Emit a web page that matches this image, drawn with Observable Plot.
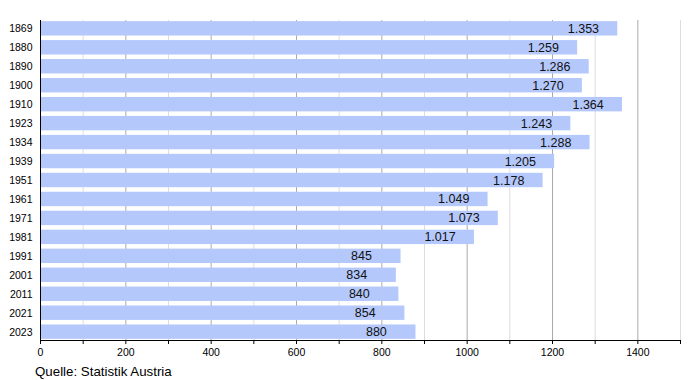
<!DOCTYPE html>
<html>
<head>
<meta charset="utf-8">
<script src="https://cdn.jsdelivr.net/npm/d3@7"></script>
<script src="https://cdn.jsdelivr.net/npm/@observablehq/plot@0.6"></script>
<style>
  body { margin: 0; background: white; font-family: "Liberation Sans", Arial, sans-serif; }
  #caption { font-size: 13.3px; margin: 2px 0 0 35px; line-height: 15px; color: #000; }
</style>
</head>
<body>
<div id="chart"></div>
<div id="caption">Quelle: Statistik Austria</div>
<script>
const years = ["1869","1880","1890","1900","1910","1923","1934","1939","1951","1961","1971","1981","1991","2001","2011","2021","2023"];
const values = [1353,1259,1286,1270,1364,1243,1288,1205,1178,1049,1073,1017,845,834,840,854,880];
const minorTicks = [100,300,500,700,900,1100,1300,1500];
const majorTicks = [200,400,600,800,1000,1200,1400];
const allTicks = [0,100,200,300,400,500,600,700,800,900,1000,1100,1200,1300,1400,1500];

const data = years.map((y, i) => ({year: y, value: values[i]}));
const de = d3.formatLocale({decimal: ",", thousands: ".", grouping: [3], currency: ["", "€"]});
const fmt = de.format(",");

const chart = Plot.plot({
  width: 700,
  height: 362,
  marginLeft: 40,
  marginRight: 20,
  marginTop: 20,
  marginBottom: 22,
  style: {fontFamily: "'Liberation Sans', Arial, sans-serif", fontSize: "10.5px", color: "#000", background: "white"},
  x: {domain: [0, 1500]},
  y: {domain: years, paddingInner: 0.24, paddingOuter: 0.06, round: false},
  marks: [
    Plot.ruleX(minorTicks, {stroke: "#dddddd"}),
    Plot.ruleX(majorTicks, {stroke: "#aaaaaa"}),
    Plot.barX(data, {x: "value", y: "year", fill: "#b4c8fc"}),
    Plot.text(data, {x: "value", y: "year", text: d => fmt(d.value), textAnchor: "start", dx: -50, fontSize: 12.5, fill: "#111"}),
    Plot.ruleX([0], {stroke: "black"}),
    Plot.frame({anchor: "bottom", stroke: "black"}),
    Plot.axisX({ticks: allTicks, tickFormat: d => d % 200 === 0 ? String(d) : "", tickSize: 4, tickPadding: 4, label: null}),
    Plot.axisY({tickSize: 0, tickPadding: 8, label: null})
  ]
});
document.getElementById("chart").appendChild(chart);
</script>
</body>
</html>
